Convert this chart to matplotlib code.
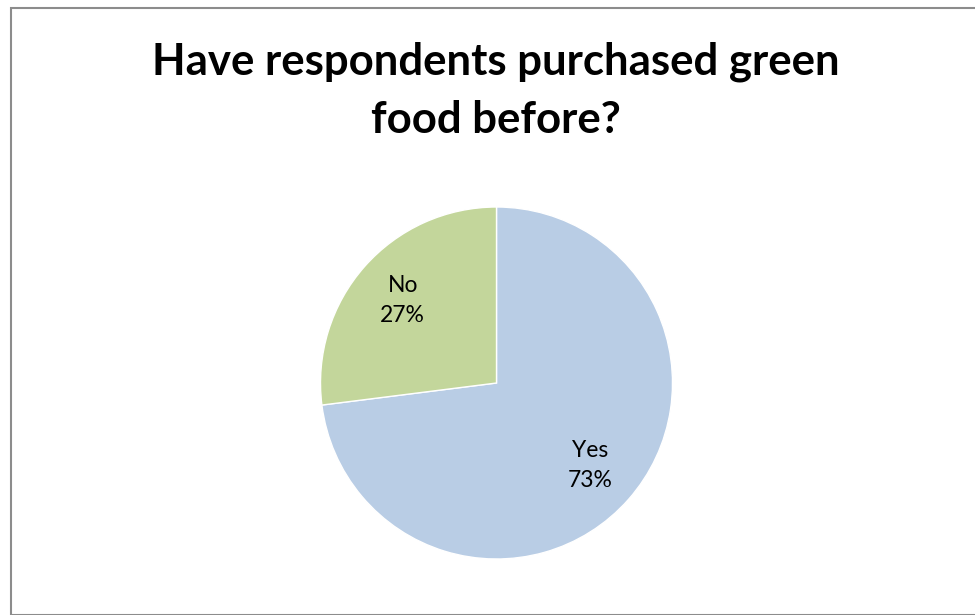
import matplotlib.pyplot as plt
from matplotlib.patches import Rectangle

labels = ['Yes', 'No']
shares = [73, 27]
colors = ['#B9CDE5', '#C3D69B']
title = 'Have respondents purchased green\nfood before?'

W, H = 975, 615
fig = plt.figure(figsize=(W / 100, H / 100), dpi=100)

# outer chart border (runs off the right and bottom edge)
fig.patches.append(Rectangle((10.5 / W, 0), 1.0, 1 - 8 / H, transform=fig.transFigure,
                             fill=False, edgecolor='#8c8c8c', linewidth=1.5))

# pie centre and radius in pixels
cx, cy, r = 496.5, 383, 176
ax = fig.add_axes([(cx - r) / W, (H - cy - r) / H, 2 * r / W, 2 * r / H])
wedges, texts = ax.pie(shares, colors=colors, startangle=90, counterclock=False,
                       labels=[f'{l}\n{s}%' for l, s in zip(labels, shares)],
                       labeldistance=0.71, radius=1,
                       wedgeprops=dict(edgecolor='white', linewidth=1),
                       textprops=dict(fontsize=16.5, family='Lato', linespacing=1.55))
for t in texts:
    t.set_horizontalalignment('center')
    t.set_verticalalignment('center')
ax.set_xlim(-1, 1)
ax.set_ylim(-1, 1)
ax.set_aspect('equal')

fig.text(496 / W, 1 - 91 / H, title, ha='center', va='center', fontsize=31.5,
         fontweight='bold', family='Lato', linespacing=1.55)

fig.savefig('out.png', dpi=100)
